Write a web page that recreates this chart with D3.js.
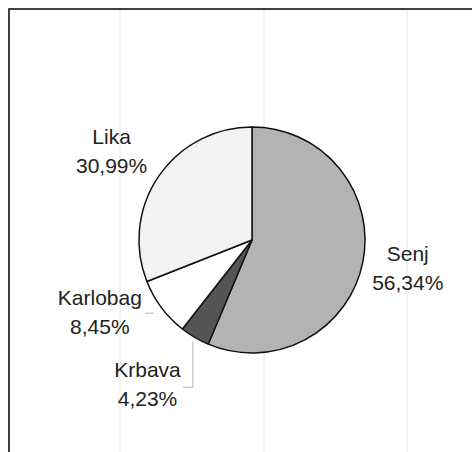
<!DOCTYPE html>
<html><head><meta charset="utf-8">
<script src="https://cdn.jsdelivr.net/npm/d3@7/dist/d3.min.js"></script>
<style>html,body{margin:0;padding:0;background:#fff;}svg{display:block;}</style>
</head><body>
<script>
const categories = ["Senj", "Krbava", "Karlobag", "Lika"];
const values = [56.34, 4.23, 8.45, 30.99];
const valueLabels = ["56,34%", "4,23%", "8,45%", "30,99%"];
const fills = ["#b3b3b3", "#555555", "#ffffff", "#f3f3f3"];
const gridX = [120, 264, 407];

const W = 472, H = 452;
const cx = 252, cy = 240, R = 113, labelR = 165;
const nudges = {Senj: [-6, -5], Krbava: [-21, 1], Karlobag: [-20, -27], Lika: [-4, 3]};

const svg = d3.select("body").append("svg").attr("width", W).attr("height", H);
svg.append("rect").attr("width", W).attr("height", H).attr("fill", "#fff");

svg.selectAll("line.grid").data(gridX).enter().append("line")
  .attr("x1", d => d).attr("x2", d => d).attr("y1", 10).attr("y2", H)
  .attr("stroke", "#e6e6e6").attr("stroke-width", 1);

svg.append("rect").attr("x", 9).attr("y", 9).attr("width", W + 10).attr("height", H + 10)
  .attr("fill", "none").attr("stroke", "#111").attr("stroke-width", 1.6);

const data = categories.map((c, i) => ({cat: c, value: values[i], label: valueLabels[i], fill: fills[i]}));
const pie = d3.pie().sort(null).value(d => d.value).startAngle(0).endAngle(2 * Math.PI);
const arcs = pie(data);
const arc = d3.arc().innerRadius(0).outerRadius(R);

const g = svg.append("g").attr("transform", `translate(${cx},${cy})`);
g.selectAll("path").data(arcs).enter().append("path")
  .attr("d", arc).attr("fill", d => d.data.fill)
  .attr("stroke", "#111").attr("stroke-width", 1.5).attr("stroke-linejoin", "round");

function pos(d) {
  const a = (d.startAngle + d.endAngle) / 2;
  const n = nudges[d.data.cat];
  return [labelR * Math.sin(a) + n[0], -labelR * Math.cos(a) + n[1]];
}

// leader lines
const byCat = {};
arcs.forEach(d => byCat[d.data.cat] = d);
{
  const d = byCat["Krbava"];
  const a = (d.startAngle + d.endAngle) / 2;
  const sx = R * Math.sin(a) - 2, sy = -R * Math.cos(a) + 4;
  const p = pos(d);
  g.append("path").attr("d", `M${sx},${sy}V${p[1] + 4}H${sx - 10}`)
    .attr("fill", "none").attr("stroke", "#c4c4c4").attr("stroke-width", 1.2);
}
{
  const d = byCat["Karlobag"];
  const p = pos(d);
  g.append("path").attr("d", `M${p[0] + 45},${p[1] + 1.5}H${p[0] + 54}`)
    .attr("fill", "none").attr("stroke", "#c4c4c4").attr("stroke-width", 1.2);
}

const lbl = g.selectAll("text.lbl").data(arcs).enter().append("text")
  .attr("class", "lbl")
  .attr("text-anchor", "middle")
  .attr("font-family", "'Liberation Sans', Arial, sans-serif")
  .attr("font-size", 21).attr("fill", "#222")
  .attr("transform", d => `translate(${pos(d)})`);
lbl.append("tspan").attr("x", 0).attr("y", -6.5).text(d => d.data.cat);
lbl.append("tspan").attr("x", 0).attr("y", 22.5).text(d => d.data.label);
</script>
</body></html>
